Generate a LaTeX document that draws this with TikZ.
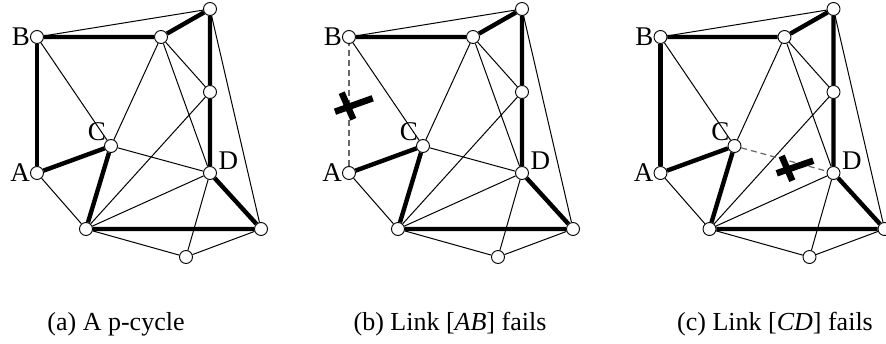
\documentclass[tikz,border=0pt]{standalone}
\usepackage{fontspec}
\setmainfont{Liberation Serif}
\newcommand{\netnodes}[1]{%
  \node[router, label={[lbl]left:A}] (#1A) at (37,173) {};
  \node[router, label={[lbl]left:B}] (#1B) at (37,37) {};
  \node[router, label={[lbl]above left:C}] (#1C) at (111,146) {};
  \node[router, label={[lbl, label distance=2pt]20:D}] (#1D) at (210,173) {};
  \node[router] (#1E) at (161,37) {};
  \node[router] (#1F) at (210,9) {};
  \node[router] (#1G) at (210,92) {};
  \node[router] (#1H) at (86,229) {};
  \node[router] (#1I) at (261,229) {};
  \node[router] (#1J) at (186,257) {};
}
\newcommand{\netlinks}[1]{%
  \draw[cyc] (#1B) -- (#1E) -- (#1F) -- (#1G) -- (#1D) -- (#1I) -- (#1H) -- (#1C) -- (#1A);
  \draw[lnk] (#1B) -- (#1F) (#1B) -- (#1C) (#1E) -- (#1C) (#1E) -- (#1G) (#1E) -- (#1D)
    (#1H) -- (#1G) (#1H) -- (#1D) (#1H) -- (#1J) -- (#1I) (#1J) -- (#1D) (#1F) -- (#1I) (#1A) -- (#1H);
}
\tikzset{
  router/.style={circle, draw, fill=white, inner sep=0pt, minimum size=13pt, line width=0.9pt},
  cyc/.style={line width=4.4pt},
  lnk/.style={line width=1pt},
  failed/.style={line width=1.2pt, black!60, dash pattern=on 6pt off 4pt},
  cut/.style={line width=6.5pt},
  lbl/.style={font=\fontsize{27}{30}\selectfont, inner sep=0pt},
  caption/.style={font=\fontsize{26}{30}\selectfont, anchor=base, inner sep=0pt},
}

\begin{document}
\begin{tikzpicture}[x=1pt,y=-1pt]
\useasboundingbox (0,0) rectangle (886,343);
% (a)
\netnodes{a}
\netlinks{a}
\draw[cyc] (aA) -- (aB);
\draw[lnk] (aC) -- (aD);
% (b)
\begin{scope}[xshift=312pt]
\netnodes{b}
\netlinks{b}
\draw[failed] (bA) -- (bB);
\draw[lnk] (bC) -- (bD);
\draw[cut] (23,111.7) -- (60.7,98.3);
\draw[cut] (29.7,92.7) -- (41.3,119.3);
\end{scope}
% (c)
\begin{scope}[xshift=623.5pt]
\netnodes{c}
\netlinks{c}
\draw[cyc] (cA) -- (cB);
\draw[failed] (cC) -- (cD);
\draw[cut] (153.2,173.3) -- (189.8,160.7);
\draw[cut] (158.2,156) -- (168.8,180.7);
\end{scope}
\node[caption] (capa) at (116,330) {(a) A p-cycle};
\node[caption] (capb) at (450,330) {(b) Link [\textit{AB}] fails};
\node[caption] (capc) at (775,330) {(c) Link [\textit{CD}] fails};
\end{tikzpicture}
\end{document}
